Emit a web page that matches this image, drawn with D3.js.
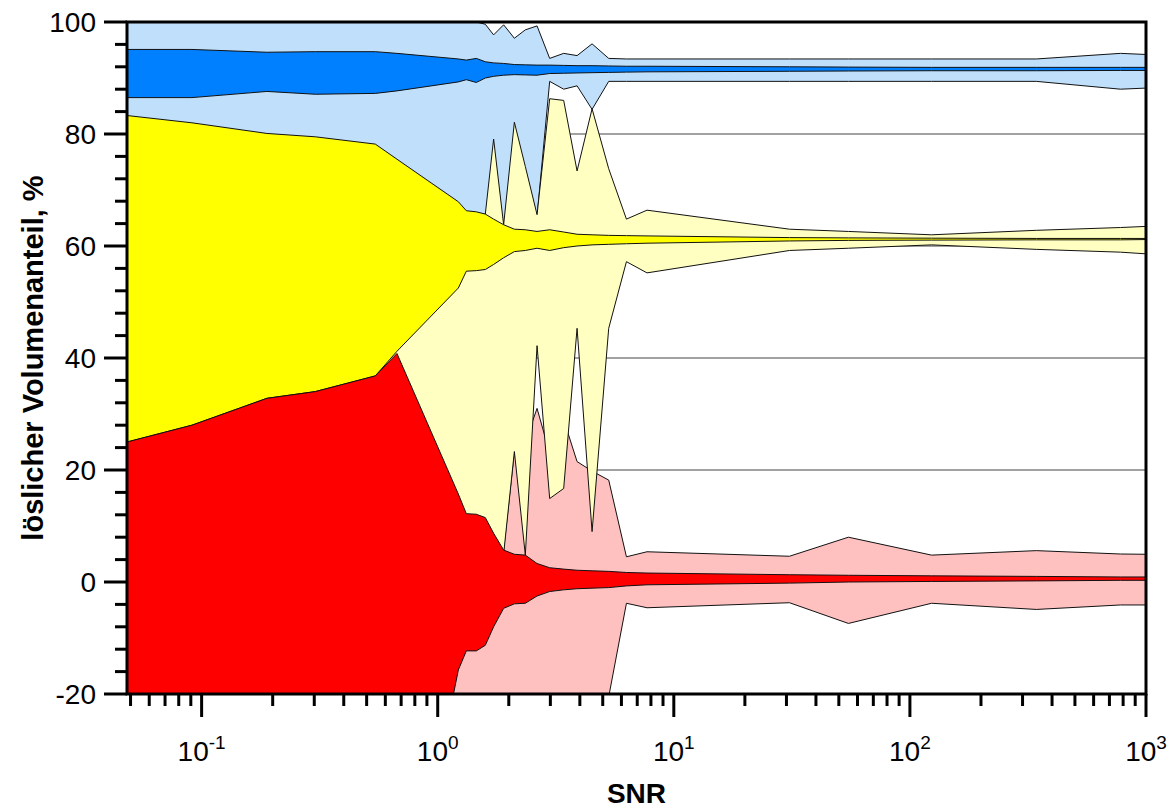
<!DOCTYPE html>
<html>
<head>
<meta charset="utf-8">
<script src="https://cdn.jsdelivr.net/npm/d3@7"></script>
<style>
  body { margin: 0; background: #fff; }
  svg { display: block; }
  text { font-family: Arial, "Liberation Sans", sans-serif; fill: #000; }
</style>
</head>
<body>
<svg id="chart" width="1176" height="809"></svg>
<script>
// SNR sample points
const snr = [0.0483, 0.091, 0.189, 0.303, 0.544, 0.672, 1.223, 1.322, 1.457, 1.591,
             1.725, 1.902, 2.112, 2.35, 2.635, 2.98, 3.416, 3.893, 4.506, 5.30,
             6.30, 7.70, 30.9, 54.9, 123.5, 343, 780, 1000];

// blue component: outer range and inner band (%)
const blueOuterHi = [100, 100, 100, 100, 100, 100, 100, 100, 100, 99.6,
                     97.7, 99.5, 97.1, 98.6, 99.3, 93.5, 94.4, 94.0, 96.1, 93.5,
                     93.4, 93.4, 93.4, 93.4, 93.4, 93.4, 94.4, 94.2];
const blueOuterLo = [82, 81, 79, 78.5, 77, 74.5, 67, 65.3, 65, 64.7,
                     63.8, 62.8, 62, 61.9, 65.3, 89.4, 88.0, 88.6, 84.4, 89.4,
                     89.4, 89.4, 89.4, 89.4, 89.4, 89.4, 88.0, 88.2];
const blueInnerHi = [95.1, 95.1, 94.6, 94.7, 94.7, 94.4, 93.4, 93.2, 93.5, 92.9,
                     92.7, 92.6, 92.4, 92.35, 92.3, 92.3, 92.25, 92.2, 92.2, 92.15,
                     92.1, 92.1, 92.0, 91.95, 91.9, 91.9, 91.9, 91.9];
const blueInnerLo = [86.5, 86.5, 87.6, 87.1, 87.25, 87.7, 89.3, 89.7, 89.2, 90.0,
                     90.3, 90.5, 90.6, 90.55, 90.5, 90.8, 90.85, 90.9, 90.95, 91.0,
                     91.05, 91.1, 91.2, 91.25, 91.3, 91.3, 91.35, 91.35];

// yellow component
const yellowOuterHi = [82.8, 81.5, 79.6, 79.0, 77.7, 75.0, 67.4, 65.8, 65.6, 65.7,
                       79.1, 63.8, 82.1, 74.2, 65.6, 86.3, 86.0, 73.4, 84.5, 73.8,
                       64.8, 66.4, 63.0, 62.6, 62.0, 62.8, 63.3, 63.5];
const yellowOuterLo = [20, 22, 25, 28, 30, 30, 12, 10, 10, 9,
                       7, 5.0, 23.3, 4.8, 42.2, 14.9, 16.7, 45.3, 9.0, 45.3,
                       57.2, 55.2, 59.2, 59.6, 60.2, 59.4, 58.9, 58.6];
const yellowInnerHi = [83.3, 82.0, 80.1, 79.5, 78.2, 75.5, 67.9, 66.3, 66.1, 65.7,
                       64.8, 63.8, 63.0, 62.9, 62.6, 62.9, 62.5, 62.1, 62.0, 61.9,
                       61.85, 61.8, 61.5, 61.45, 61.4, 61.35, 61.35, 61.35];
const yellowInnerLo = [25.0, 28.0, 32.8, 34.0, 36.8, 41.2, 52.5, 55.5, 55.6, 55.8,
                       56.7, 57.9, 59.0, 59.2, 59.6, 59.2, 59.7, 60.0, 60.2, 60.3,
                       60.4, 60.5, 60.9, 61.0, 61.05, 61.1, 61.1, 61.15];

// red component
const redOuterHi = [22, 25, 30, 31, 34, 38, 12, 10, 10, 9,
                    7, 5.7, 23.3, 25, 31, 23, 29, 21.5, 19.8, 18.2,
                    4.5, 5.4, 4.6, 8.0, 4.8, 5.6, 5.0, 4.95];
const redOuterLo = [-70, -70, -70, -70, -70, -70, -70, -70, -70, -70,
                    -70, -70, -70, -70, -70, -70, -70, -70, -70, -20.5,
                    -3.8, -4.6, -3.7, -7.4, -3.8, -4.9, -4.1, -4.1];
const redInnerHi = [25.0, 28.0, 32.8, 34.0, 36.8, 40.8, 15.7, 12.2, 12.1, 11.5,
                    8.7, 5.7, 4.95, 4.8, 3.3, 2.55, 2.3, 2.1, 2.0, 1.9,
                    1.7, 1.6, 1.3, 1.2, 1.1, 1.0, 0.9, 0.9];
const redInnerLo = [-70, -70, -70, -70, -70, -70, -15.7, -12.3, -12.3, -11.3,
                    -8.0, -4.7, -3.9, -3.8, -2.5, -1.7, -1.4, -1.2, -1.1, -1.0,
                    -0.7, -0.5, -0.2, 0.0, 0.1, 0.2, 0.3, 0.3];

// axis ticks
const yMajorTicks = [-20, 0, 20, 40, 60, 80, 100];
const xMajorTicks = [0.1, 1, 10, 100, 1000];
const xTickExponents = ["-1", "0", "1", "2", "3"];

const svg = d3.select("#chart");
const L = 127, R = 1146, T = 22, B = 694;

const x = d3.scaleLog().domain([snr[0], 1000]).range([L, R]);
const y = d3.scaleLinear().domain([-20, 100]).range([B, T]);

svg.append("defs").append("clipPath").attr("id", "plotClip")
  .append("rect").attr("x", L).attr("y", T).attr("width", R - L).attr("height", B - T);

// horizontal grid lines behind the bands
svg.append("g").selectAll("line").data(yMajorTicks).join("line")
  .attr("x1", L).attr("x2", R)
  .attr("y1", d => y(d)).attr("y2", d => y(d))
  .attr("stroke", "#444").attr("stroke-width", 1);

const bands = [
  { lo: blueOuterLo,   hi: blueOuterHi,   fill: "#BFDFFB" },
  { lo: redOuterLo,    hi: redOuterHi,    fill: "#FFC0C0" },
  { lo: yellowOuterLo, hi: yellowOuterHi, fill: "#FFFFC2" },
  { lo: blueInnerLo,   hi: blueInnerHi,   fill: "#0080FF" },
  { lo: yellowInnerLo, hi: yellowInnerHi, fill: "#FFFF00" },
  { lo: redInnerLo,    hi: redInnerHi,    fill: "#FF0000" }
];

const plot = svg.append("g").attr("clip-path", "url(#plotClip)");
bands.forEach(b => {
  const area = d3.area()
    .x((d, i) => x(snr[i]))
    .y0((d, i) => y(b.lo[i]))
    .y1((d, i) => y(b.hi[i]));
  plot.append("path")
    .datum(snr)
    .attr("d", area)
    .attr("fill", b.fill)
    .attr("stroke", "#111")
    .attr("stroke-width", 1)
    .attr("stroke-linejoin", "miter");
});

// y axis ticks and labels
const yMinor = d3.range(-20, 100.1, 4);
const ax = svg.append("g").attr("stroke", "#000").attr("stroke-width", 3);
yMinor.forEach(v => {
  const major = yMajorTicks.includes(v);
  ax.append("line").attr("x1", L - (major ? 23 : 12)).attr("x2", L)
    .attr("y1", y(v)).attr("y2", y(v));
});
svg.append("g").selectAll("text").data(yMajorTicks).join("text")
  .attr("x", 96).attr("y", d => y(d)).attr("dy", "0.36em")
  .attr("text-anchor", "end").attr("font-size", 28)
  .text(d => d);

// x axis ticks
const xMinor = [];
[0.01, 0.1, 1, 10, 100].forEach(dec => {
  for (let k = 2; k <= 9; k++) {
    const v = dec * k;
    if (v > snr[0] && v < 1000) xMinor.push(v);
  }
});
xMinor.forEach(v => {
  ax.append("line").attr("x1", x(v)).attr("x2", x(v))
    .attr("y1", B).attr("y2", B + 12);
});
xMajorTicks.forEach(v => {
  ax.append("line").attr("x1", x(v)).attr("x2", x(v))
    .attr("y1", B).attr("y2", B + 23);
});
const xl = svg.append("g").selectAll("text").data(xMajorTicks).join("text")
  .attr("x", d => x(d)).attr("y", 761)
  .attr("text-anchor", "middle").attr("font-size", 28);
xl.append("tspan").text("10");
xl.append("tspan").attr("dy", -12).attr("font-size", 19).text((d, i) => xTickExponents[i]);

// frame
svg.append("rect").attr("x", L).attr("y", T).attr("width", R - L).attr("height", B - T)
  .attr("fill", "none").attr("stroke", "#000").attr("stroke-width", 3);

// axis titles
svg.append("text").attr("x", (L + R) / 2).attr("y", 803)
  .attr("text-anchor", "middle").attr("font-size", 28).attr("font-weight", "bold")
  .text("SNR");
svg.append("text").attr("transform", `translate(43,${(T + B) / 2}) rotate(-90)`)
  .attr("text-anchor", "middle").attr("font-size", 29).attr("font-weight", "bold")
  .text("löslicher Volumenanteil, %");
</script>
</body>
</html>
